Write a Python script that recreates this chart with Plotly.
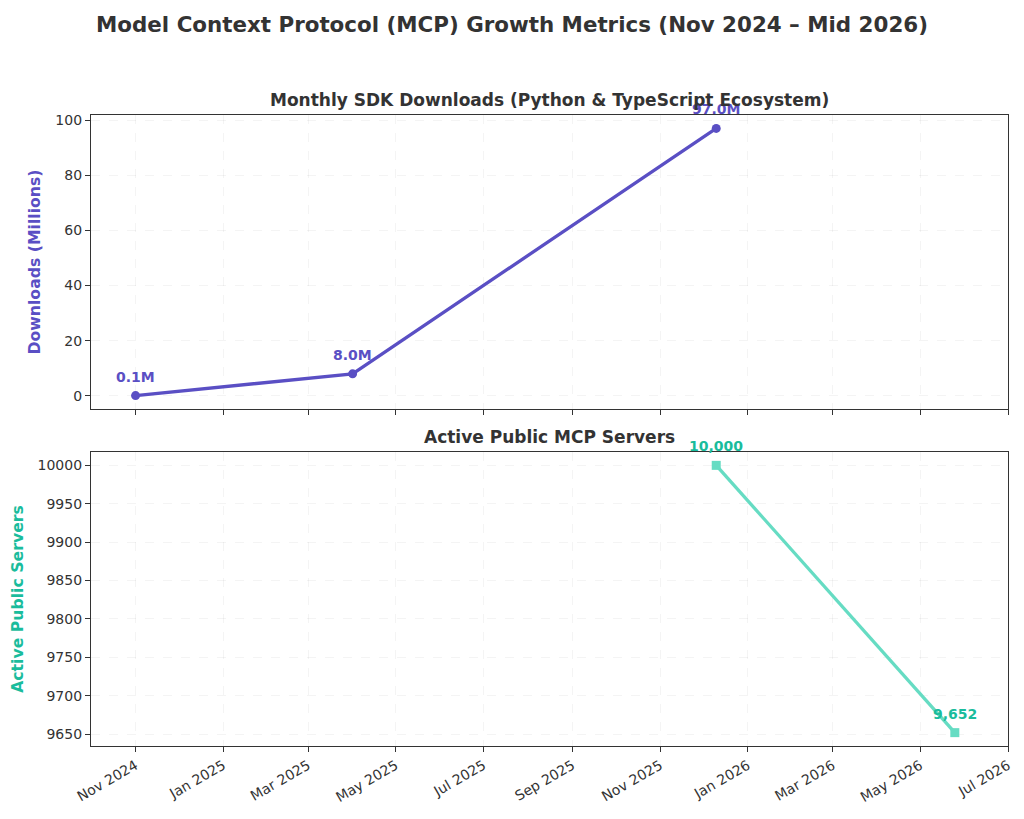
import plotly.graph_objects as go
from plotly.subplots import make_subplots

# ---- data ----
dl_dates = ["2024-11-01", "2025-04-01", "2025-12-10"]
dl_values = [0.1, 8.0, 97.0]
dl_labels = ["0.1M", "8.0M", "97.0M"]

srv_dates = ["2025-12-10", "2026-05-25"]
srv_values = [10000, 9652]
srv_labels = ["10,000", "9,652"]

title_text = "Model Context Protocol (MCP) Growth Metrics (Nov 2024 \u2013 Mid 2026)"
top_title = "Monthly SDK Downloads (Python & TypeScript Ecosystem)"
bottom_title = "Active Public MCP Servers"

PURPLE = "#5a4fc4"
TEAL_LINE = "#66dcc3"
TEAL_TEXT = "#1abc9c"
DARK = "#333333"
FONT = "DejaVu Sans"

W, H = 1024, 819
ml, mr, mt, mb = 91, 16, 115, 73
ph = H - mt - mb
sub_h = 294
fig = make_subplots(rows=2, cols=1, shared_xaxes=False, vertical_spacing=(ph - 2 * sub_h) / ph)

fig.add_trace(go.Scatter(x=dl_dates, y=dl_values, mode="lines+markers",
                         line=dict(color=PURPLE, width=3.3),
                         marker=dict(color=PURPLE, size=9, symbol="circle"),
                         showlegend=False), row=1, col=1)
fig.add_trace(go.Scatter(x=srv_dates, y=srv_values, mode="lines+markers",
                         line=dict(color=TEAL_LINE, width=3.3),
                         marker=dict(color=TEAL_LINE, size=9, symbol="square"),
                         showlegend=False), row=2, col=1)

for d, v, t in zip(dl_dates, dl_values, dl_labels):
    fig.add_annotation(x=d, y=v, xref="x", yref="y", text="<b>%s</b>" % t,
                       showarrow=False, yshift=19,
                       font=dict(family=FONT, size=14, color=PURPLE))
for d, v, t in zip(srv_dates, srv_values, srv_labels):
    fig.add_annotation(x=d, y=v, xref="x2", yref="y2", text="<b>%s</b>" % t,
                       showarrow=False, yshift=19,
                       font=dict(family=FONT, size=14, color=TEAL_TEXT))

xcommon = dict(type="date", range=["2024-10-01", "2026-07-01"],
               tick0="2024-11-01", dtick="M2", tickformat="%b %Y",
               ticks="outside", ticklen=5, tickcolor=DARK,
               showline=True, linecolor=DARK, linewidth=1.2, mirror=True,
               showgrid=True, gridcolor="rgba(0,0,0,0.045)", griddash="dash",
               zeroline=False,
               tickfont=dict(family=FONT, size=14, color=DARK))
fig.update_xaxes(**xcommon, showticklabels=False, row=1, col=1)
fig.update_xaxes(**xcommon, showticklabels=True, tickangle=-30, row=2, col=1)

ycommon = dict(ticks="outside", ticklen=5, tickcolor=DARK,
               showline=True, linecolor=DARK, linewidth=1.2, mirror=True,
               showgrid=True, gridcolor="rgba(0,0,0,0.045)", griddash="dash",
               zeroline=False,
               tickfont=dict(family=FONT, size=14, color=DARK))
fig.update_yaxes(**ycommon, range=[-4.75, 101.85], dtick=20,
                 title=dict(text="<b>Downloads (Millions)</b>", standoff=10,
                            font=dict(family=FONT, size=15.7, color=PURPLE)),
                 row=1, col=1)
fig.update_yaxes(**ycommon, range=[9634.6, 10017.4], dtick=50, tickformat="d",
                 title=dict(text="<b>Active Public Servers</b>", standoff=10,
                            font=dict(family=FONT, size=15.7, color=TEAL_TEXT)),
                 row=2, col=1)

fig.add_annotation(text="<b>%s</b>" % top_title, xref="paper", yref="paper",
                   x=0.5, y=1, yanchor="bottom", yshift=3, showarrow=False,
                   font=dict(family=FONT, size=17, color=DARK))
fig.add_annotation(text="<b>%s</b>" % bottom_title, xref="paper", yref="paper",
                   x=0.5, y=sub_h / ph, yanchor="bottom", yshift=3, showarrow=False,
                   font=dict(family=FONT, size=17, color=DARK))

fig.update_layout(
    width=W, height=H,
    margin=dict(l=ml, r=mr, t=mt, b=mb),
    paper_bgcolor="white", plot_bgcolor="white",
    title=dict(text="<b>%s</b>" % title_text, x=0.5, xanchor="center",
               y=1 - 25 / H, yanchor="middle",
               font=dict(family=FONT, size=21.4, color=DARK)),
    font=dict(family=FONT, color=DARK),
)

fig.write_html("out.html")
